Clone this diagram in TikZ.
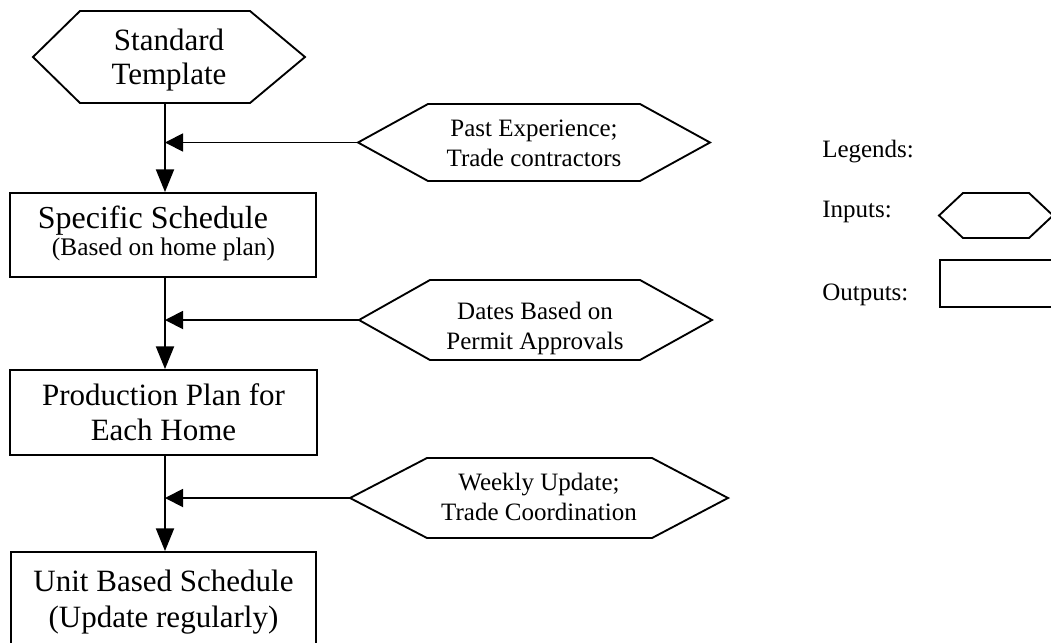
\documentclass[tikz,border=0pt]{standalone}
\usepackage{fontspec}
\setmainfont{Liberation Serif}
\usetikzlibrary{arrows.meta}

% hexagon outline around a (text-less) rectangle node: left and right insets of the flat edges
\newcommand\hexdraw[3]{%
  \draw[hexline] (#1.west) -- ([xshift=#2]#1.north west) -- ([xshift=-#3]#1.north east)
    -- (#1.east) -- ([xshift=-#3]#1.south east) -- ([xshift=#2]#1.south west) -- cycle;}

\begin{document}
\begin{tikzpicture}[x=0.75pt,y=-0.75pt,
  hexline/.style={line width=1.4pt,line join=miter},
  hexframe/.style={rectangle,inner sep=0pt,outer sep=0pt},
  outbox/.style={rectangle,draw,line width=1.4pt,inner sep=0pt,align=center,
    font=\fontsize{23.25}{26.5}\selectfont},
  bigtext/.style={align=center,inner sep=0pt,font=\fontsize{23.25}{26}\selectfont},
  smalltext/.style={align=center,inner sep=0pt,font=\fontsize{18.75}{22.5}\selectfont},
  legtext/.style={anchor=west,inner sep=0pt,font=\fontsize{18.75}{22.5}\selectfont},
  down/.style={line width=1.4pt,-{Triangle[length=17pt,width=13.5pt]}},
  feed/.style={line width=1.4pt,-{Triangle[length=13.5pt,width=13.5pt]}}]

\useasboundingbox (0,0) rectangle (1051,643);
\clip (0,0) rectangle (1051,643);
\fill[white] (0,0) rectangle (1051,643);

% main column
\node[hexframe,minimum width=204pt,minimum height=69pt] (std) at (169,57) {};
\hexdraw{std}{35.25pt}{41.25pt}
\node[bigtext] (stdT) at (169,60) {Standard\\Template};

\node[outbox,minimum width=229.5pt,minimum height=63pt] (spec) at (163,235) {};
\node[anchor=base,inner sep=0pt,font=\fontsize{24}{26}\selectfont] (specA) at (153,228) {Specific Schedule};
\node[anchor=base,inner sep=0pt,font=\fontsize{19}{22}\selectfont] (specB) at (163.5,255) {(Based on home plan)};

\node[outbox,minimum width=230.25pt,minimum height=63.75pt] (prod) at (163.5,412.5)
  {Production Plan for\\Each Home};

\node[outbox,minimum width=228.75pt,minimum height=75pt] (unit) at (163.5,602)
  {Unit Based Schedule\\(Update regularly)};

% inputs
\node[hexframe,minimum width=264pt,minimum height=57.75pt] (past) at (534,142.5) {};
\hexdraw{past}{52.5pt}{52.5pt}
\node[smalltext] (pastT) at (534,143.5) {Past Experience;\\Trade contractors};

\node[hexframe,minimum width=264.75pt,minimum height=60pt] (dates) at (535.5,320) {};
\hexdraw{dates}{53.25pt}{54pt}
\node[smalltext] (datesT) at (535,328) {Dates Based on\\Permit Approvals};

\node[hexframe,minimum width=283.5pt,minimum height=60pt] (weekly) at (539,498) {};
\hexdraw{weekly}{57.75pt}{57pt}
\node[smalltext] (weeklyT) at (539,496.5) {Weekly Update;\\Trade Coordination};

% spine and connectors
\coordinate (spine) at (165,103);
\draw[down] (spine) -- (spine |- spec.north);
\draw[down] (spine |- spec.south) -- (spine |- prod.north);
\draw[down] (spine |- prod.south) -- (spine |- unit.north);
\draw[feed] (past.west) -- (past.west -| spine);
\draw[feed] (dates.west) -- (dates.west -| spine);
\draw[feed] (weekly.west) -- (weekly.west -| spine);

% legend
\node[legtext] (legT) at (822,152) {Legends:};
\node[legtext] (inT) at (822,212) {Inputs:};
\node[legtext] (outT) at (822,295) {Outputs:};
\node[hexframe,minimum width=85.5pt,minimum height=33.75pt] (legHex) at (996,215.5) {};
\hexdraw{legHex}{18pt}{18pt}
\node[outbox,minimum width=90pt,minimum height=35.25pt] (legBox) at (1000,283.5) {};
\end{tikzpicture}
\end{document}
